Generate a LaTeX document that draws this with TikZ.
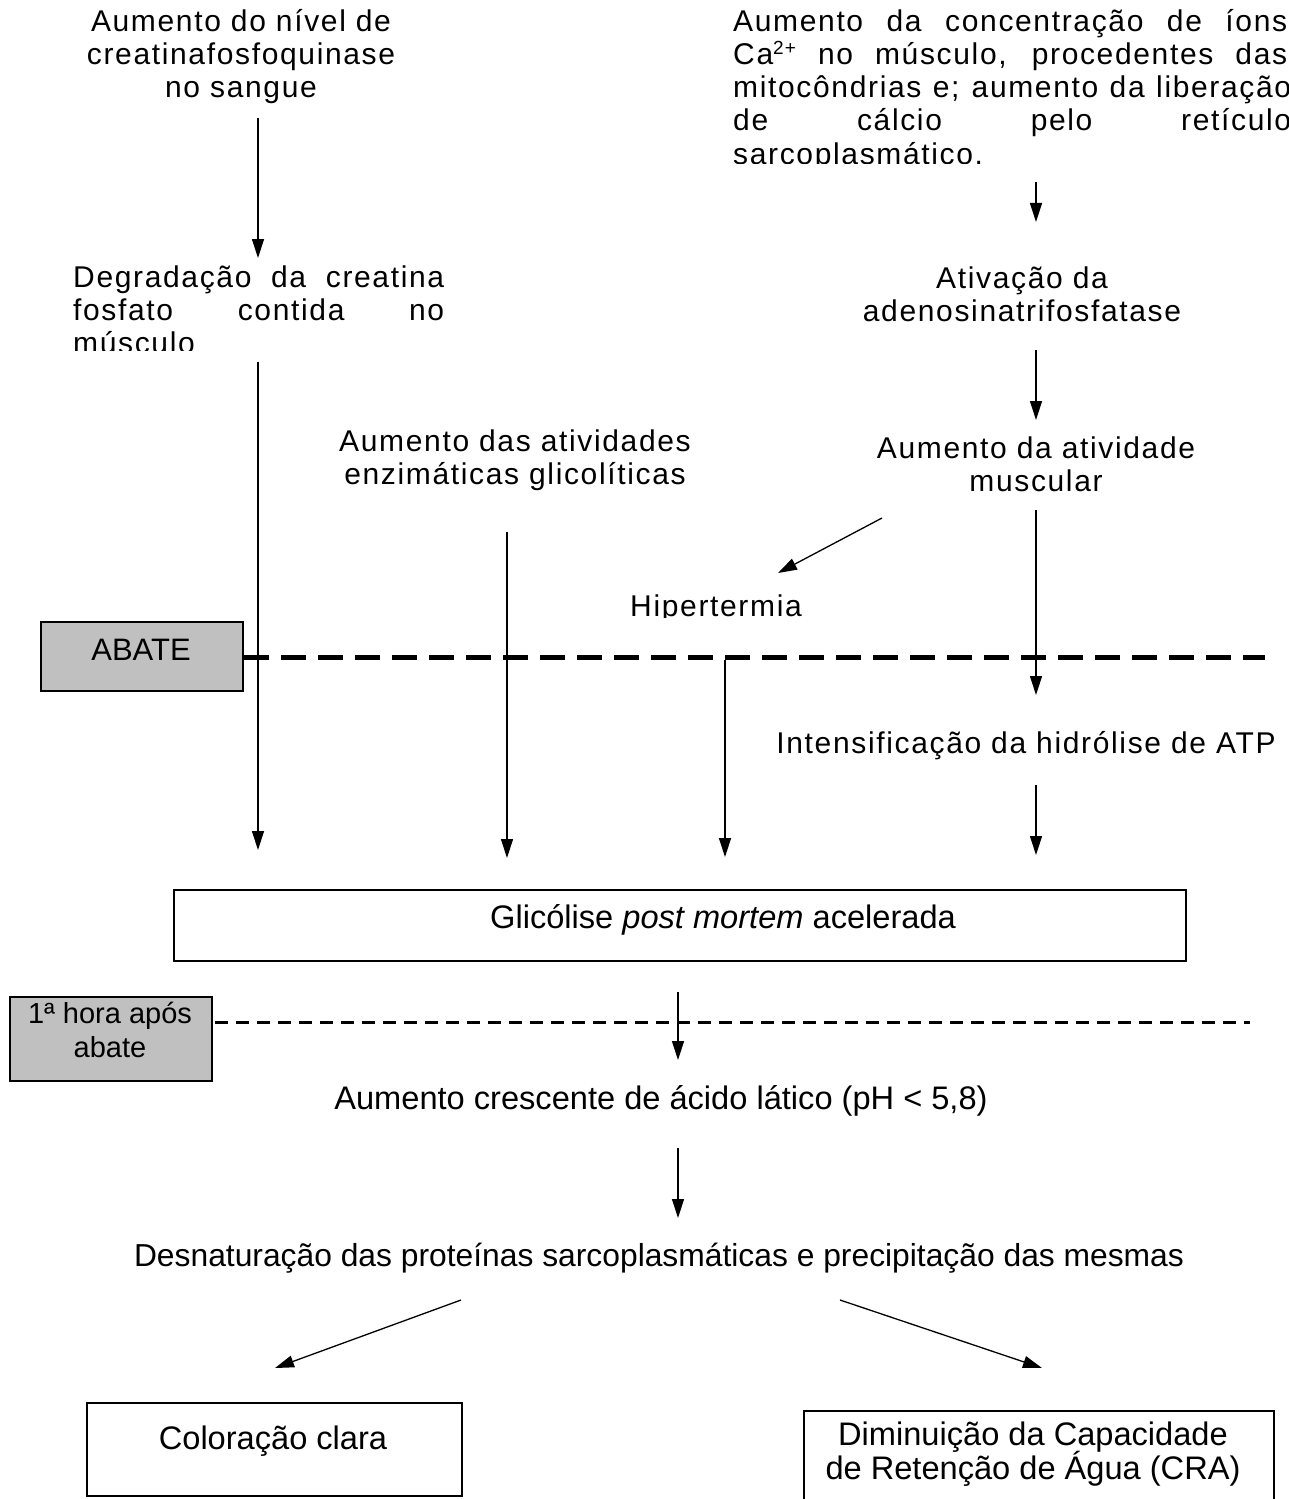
\documentclass[tikz,border=0pt]{standalone}
\usepackage{fontspec}
\setmainfont{Liberation Sans}
\newfontfamily\mainf[LetterSpace=5.5]{Liberation Sans}
\newfontfamily\boxf{Liberation Sans}
\usetikzlibrary{arrows.meta}
\definecolor{boxgray}{RGB}{192,192,192}
\tikzset{
  mtext/.style={inner sep=0pt, anchor=base, font=\mainf\fontsize{30bp}{33bp}\selectfont},
  ntext/.style={inner sep=0pt, anchor=base, font=\boxf\fontsize{32.6bp}{34bp}\selectfont},
  arr/.style={line width=1.3bp, -{Triangle[length=19bp,width=12bp]}},
  gbox/.style={draw, line width=2bp, fill=boxgray, inner sep=0pt, anchor=north west},
  wbox/.style={draw, line width=2bp, fill=white, inner sep=0pt, anchor=north west},
  dashA/.style={line width=5bp, dash pattern=on 25bp off 12bp},
  dashB/.style={line width=3bp, dash pattern=on 13bp off 8bp},
}
\begin{document}
\begin{tikzpicture}[x=1bp,y=-1bp]
\useasboundingbox[fill=white] (0,0) rectangle (1288,1499);

% ---- top left block
\node[mtext] (t1a) at (241,32) {Aumento do nível de};
\node[mtext] (t1b) at (241,65) {creatinafosfoquinase};
\node[mtext] (t1c) at (241,98) {no sangue};

\begin{scope}
  \clip (60,255) rectangle (470,350);
  \node[mtext, anchor=base west] (t3a) at (73,287) {\makebox[371bp][s]{Degradação da creatina}};
  \node[mtext, anchor=base west] (t3b) at (73,320) {\makebox[371bp][s]{fosfato contida no}};
  \node[mtext, anchor=base west] (t3c) at (73,353) {músculo};
\end{scope}

% ---- top right block
\begin{scope}
  \clip (700,0) rectangle (1288,164);
  \node[mtext, anchor=base west] (t2a) at (733,32) {\makebox[554bp][s]{Aumento da concentração de íons}};
  \node[mtext, anchor=base west] (t2b) at (733,65) {\makebox[554bp][s]{Ca\raisebox{10bp}{\fontsize{19bp}{19bp}\selectfont 2+} no músculo, procedentes das}};
  \node[mtext, anchor=base west] (t2c) at (733,98) {\makebox[558bp][s]{mitocôndrias e; aumento da liberação}};
  \node[mtext, anchor=base west] (t2d) at (733,131) {\makebox[558bp][s]{de cálcio pelo retículo}};
  \node[mtext, anchor=base west] (t2e) at (733,165) {sarcoplasmático.};
\end{scope}

\node[mtext] (t4a) at (1022,288) {Ativação da};
\node[mtext] (t4b) at (1022,321) {adenosinatrifosfatase};

\node[mtext] (t5a) at (1036,458) {Aumento da atividade};
\node[mtext] (t5b) at (1036,491) {muscular};

\node[mtext] (t6a) at (515,451) {Aumento das atividades};
\node[mtext] (t6b) at (515,484) {enzimáticas glicolíticas};

\begin{scope}
  \clip (600,570) rectangle (840,617);
  \node[mtext] (t7) at (716,616) {Hipertermia};
\end{scope}

\node[mtext] (t8) at (1026,753) {Intensificação da hidrólise de ATP};

% ---- boxes
\node[gbox, minimum width=202bp, minimum height=69bp] (abate) at (40,621) {};
\node[ntext, font=\boxf\fontsize{31bp}{34bp}\selectfont] (abatet) at (141,660) {ABATE};

\node[wbox, minimum width=1012bp, minimum height=71bp] (glic) at (173,889) {};
\node[ntext] (glict) at (723,928) {Glicólise \textit{post mortem} acelerada};

\node[gbox, minimum width=202bp, minimum height=84bp] (hora) at (9,996) {};
\node[ntext, font=\boxf\fontsize{29bp}{34bp}\selectfont] (horaa) at (110,1023) {1ª hora após};
\node[ntext, font=\boxf\fontsize{29bp}{34bp}\selectfont] (horab) at (110,1057) {abate};

\node[ntext] (t9) at (661,1109) {Aumento crescente de ácido lático (pH < 5,8)};
\node[ntext, font=\boxf\fontsize{31.8bp}{34bp}\selectfont] (t10) at (659,1266) {Desnaturação das proteínas sarcoplasmáticas e precipitação das mesmas};

\node[wbox, minimum width=375bp, minimum height=93bp] (color) at (86,1402) {};
\node[ntext] (colort) at (273,1449) {Coloração clara};

\node[wbox, minimum width=470bp, minimum height=100bp] (cra) at (803,1410) {};
\node[ntext] (craa) at (1033,1445) {Diminuição da Capacidade};
\node[ntext] (crab) at (1033,1479) {de Retenção de Água (CRA)};

% ---- dashed lines
\coordinate (d1e) at (1265,657);
\draw[dashA] (abate.east |- d1e) -- (d1e);
\coordinate (d2s) at (215,1022);
\coordinate (d2e) at (1250,1022);
\draw[dashB] (d2s) -- (d2e);

% ---- arrows
\coordinate (a1s) at (258,118);  \coordinate (a1e) at (258,258);
\coordinate (a2s) at (258,362);  \coordinate (a2e) at (258,850);
\coordinate (a3s) at (1036,182); \coordinate (a3e) at (1036,222);
\coordinate (a4s) at (1036,350); \coordinate (a4e) at (1036,420);
\coordinate (a5s) at (507,532);  \coordinate (a5e) at (507,858);
\coordinate (a6s) at (882,518);  \coordinate (a6e) at (778,573);
\coordinate (a7s) at (725,660);  \coordinate (a7e) at (725,857);
\coordinate (a8s) at (1036,510); \coordinate (a8e) at (1036,695);
\coordinate (a9s) at (1036,785); \coordinate (a9e) at (1036,855);
\coordinate (a10s) at (678,992); \coordinate (a10e) at (678,1060);
\coordinate (a11s) at (678,1148);\coordinate (a11e) at (678,1218);
\coordinate (a12s) at (461,1300);\coordinate (a12e) at (275,1368);
\coordinate (a13s) at (840,1300);\coordinate (a13e) at (1042,1368);
\foreach \i in {1,...,13}{\draw[arr] (a\i s) -- (a\i e);}
\end{tikzpicture}
\end{document}
